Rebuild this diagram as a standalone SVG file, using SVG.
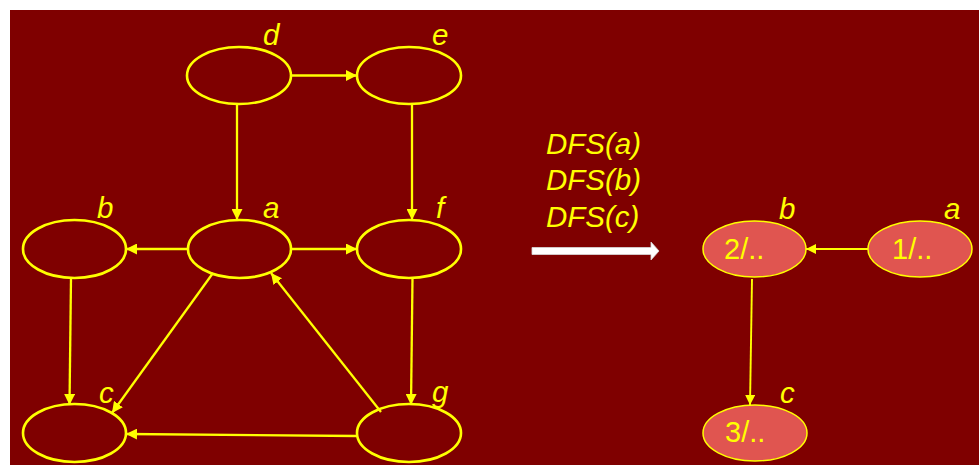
<svg xmlns="http://www.w3.org/2000/svg" width="979" height="465" viewBox="0 0 979 465">
<defs>
<style>
.n{fill:none;stroke:#ffff00;stroke-width:2.6}
.r{fill:#e05550;stroke:#ffff00;stroke-width:1.5}
.e{fill:none;stroke:#ffff00;stroke-width:2.3}
.e2{fill:none;stroke:#ffff00;stroke-width:1.9}
.lbl{font-family:"Liberation Sans",Arial,sans-serif;font-style:italic;font-size:29.5px;fill:#ffff00}
.txt{font-family:"Liberation Sans",Arial,sans-serif;font-size:29px;fill:#ffff00}
</style>
<marker id="ah" markerUnits="userSpaceOnUse" markerWidth="11" markerHeight="11" refX="10" refY="5" orient="auto" viewBox="0 0 10 10">
<path d="M0,0 L10,5 L0,10 z" fill="#ffff00"/>
</marker>
<marker id="ah2" markerUnits="userSpaceOnUse" markerWidth="10" markerHeight="10" refX="10" refY="5" orient="auto" viewBox="0 0 10 10">
<path d="M0,0 L10,5 L0,10 z" fill="#ffff00"/>
</marker>
</defs>
<rect x="0" y="0" width="979" height="465" fill="#ffffff"/>
<rect x="10" y="10" width="969" height="455" fill="#7f0000"/>
<g id="connectors">
<path class="e" d="M291,75.5 L357,75.5" marker-end="url(#ah)"/>
<path class="e" d="M237,104 L237,220" marker-end="url(#ah)"/>
<path class="e" d="M412,104 L412,220" marker-end="url(#ah)"/>
<path class="e" d="M188,249 L126,249" marker-end="url(#ah)"/>
<path class="e" d="M291,249 L357,249" marker-end="url(#ah)"/>
<path class="e" d="M71,278 L69.5,405" marker-end="url(#ah)"/>
<path class="e" d="M213,273 L112,413" marker-end="url(#ah)"/>
<path class="e" d="M381,412 L271,273" marker-end="url(#ah)"/>
<path class="e" d="M412.5,278 L411,405" marker-end="url(#ah)"/>
<path class="e" d="M357,436 L126,434" marker-end="url(#ah)"/>
<path class="e2" d="M868,249 L806,249" marker-end="url(#ah2)"/>
<path class="e2" d="M752,279 L750,405" marker-end="url(#ah2)"/>
</g>
<g id="node-d"><ellipse class="n" cx="239" cy="75.5" rx="52" ry="28.5"/><text class="lbl" x="263" y="45">d</text></g>
<g id="node-e"><ellipse class="n" cx="409" cy="75.5" rx="52" ry="28.5"/><text class="lbl" x="432" y="45">e</text></g>
<g id="node-b"><ellipse class="n" cx="74.5" cy="249" rx="51.5" ry="29"/><text class="lbl" x="97" y="218">b</text></g>
<g id="node-a"><ellipse class="n" cx="239.5" cy="249" rx="51.5" ry="29"/><text class="lbl" x="263" y="218">a</text></g>
<g id="node-f"><ellipse class="n" cx="409" cy="249" rx="52" ry="29"/><text class="lbl" x="436" y="218">f</text></g>
<g id="node-c"><ellipse class="n" cx="74.5" cy="433" rx="51.5" ry="29"/><text class="lbl" x="99" y="403">c</text></g>
<g id="node-g"><ellipse class="n" cx="409" cy="433" rx="52" ry="29"/><text class="lbl" x="432" y="402">g</text></g>
<g id="dfs-label">
<text class="lbl" x="546" y="154">DFS(a)</text>
<text class="lbl" x="546" y="190">DFS(b)</text>
<text class="lbl" x="546" y="227">DFS(c)</text>
<polygon points="532,247.5 651,247.5 651,242 659,251 651,260 651,254.5 532,254.5" fill="#ffffff" stroke="#d8d8d8" stroke-width="0.8"/>
</g>
<g id="node-b2"><ellipse class="r" cx="754.5" cy="249" rx="51.5" ry="28"/><text class="txt" x="724" y="259">2/..</text><text class="lbl" x="779" y="219">b</text></g>
<g id="node-a2"><ellipse class="r" cx="920" cy="249" rx="52" ry="28"/><text class="txt" x="892" y="259">1/..</text><text class="lbl" x="944" y="219">a</text></g>
<g id="node-c2"><ellipse class="r" cx="755" cy="433" rx="52" ry="28"/><text class="txt" x="725" y="442">3/..</text><text class="lbl" x="780" y="403">c</text></g>
</svg>
